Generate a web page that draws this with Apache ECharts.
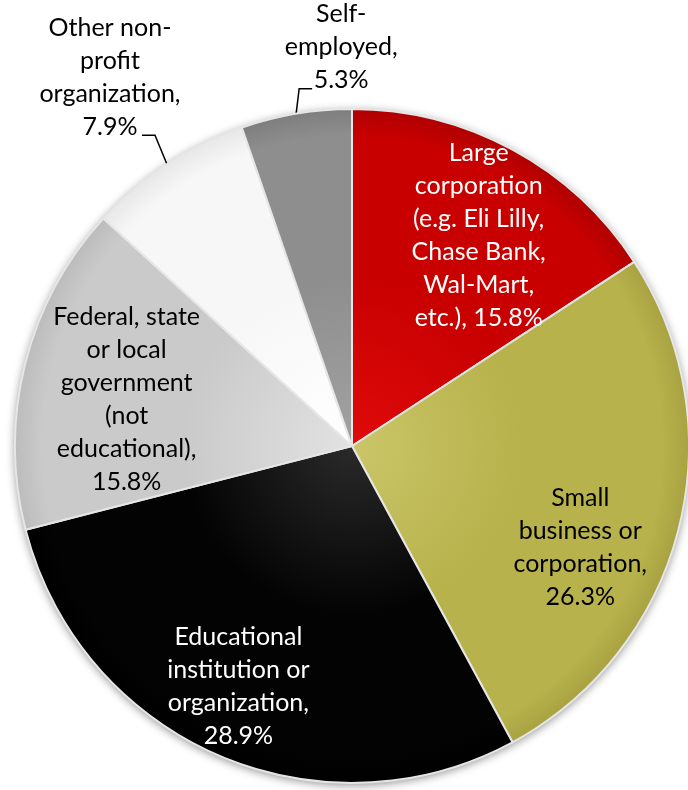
<!DOCTYPE html>
<html><head><meta charset="utf-8">
<script src="https://cdn.jsdelivr.net/npm/echarts@6/dist/echarts.min.js"></script>
<style>html,body{margin:0;padding:0;background:#fff}#c{width:688px;height:790px}</style>
</head><body><div id="c"></div>
<script>
// ---- data ----
const categories = [
  'Large corporation (e.g. Eli Lilly, Chase Bank, Wal-Mart, etc.)',
  'Small business or corporation',
  'Educational institution or organization',
  'Federal, state or local government (not educational)',
  'Other non-profit organization',
  'Self-employed'
];
const percentages = [15.8, 26.3, 28.9, 15.8, 7.9, 5.3];
const labelTexts = [
  'Large\ncorporation\n(e.g. Eli Lilly,\nChase Bank,\nWal-Mart,\netc.), 15.8%',
  'Small\nbusiness or\ncorporation,\n26.3%',
  'Educational\ninstitution or\norganization,\n28.9%',
  'Federal, state\nor local\ngovernment\n(not\neducational),\n15.8%',
  'Other non-\nprofit\norganization,\n7.9%',
  'Self-\nemployed,\n5.3%'
];

// ---- styles ----
const CX = 352, CY = 446, R = 337;
const sliceStops = [
  ['#e00a0a', '#c80000', '#b00000'],
  ['#cac668', '#b8b24c', '#a8a242'],
  ['#2a2a2a', '#030303', '#000000'],
  ['#e2e2e2', '#cacaca', '#bcbcbc'],
  ['#ffffff', '#f7f7f7', '#e8e8e8'],
  ['#a2a2a2', '#8e8e8e', '#7e7e7e']
];
const textColors = ['#ffffff', '#000000', '#ffffff', '#000000', '#000000', '#000000'];
const labelPlace = [
  { dx: 45, dy: -60 },
  { dx: 62, dy: 59 },
  { dx: -45, dy: 83 },
  { dx: -59, dy: -5 },
  { outside: true, tx: -57, ty: -153, elbow: [-12, -29], end: [-25, -29] },
  { outside: true, tx: 45, ty: -116, elbow: [3, -25], end: [16, -25] }
];

function grad(stops) {
  return {
    type: 'radial', x: CX, y: CY, r: R, global: true,
    colorStops: [
      { offset: 0, color: stops[0] },
      { offset: 0.5, color: stops[1] },
      { offset: 0.92, color: stops[1] },
      { offset: 1, color: stops[2] }
    ]
  };
}

const total = percentages.reduce((a, b) => a + b, 0);
function edgePoint(i) {
  let before = 0;
  for (let k = 0; k < i; k++) before += percentages[k];
  const a = (before + percentages[i] / 2) / total * 2 * Math.PI;
  return [CX + R * Math.sin(a), CY - R * Math.cos(a)];
}

const data = categories.map((name, i) => ({
  name: name,
  value: percentages[i],
  itemStyle: { color: grad(sliceStops[i]) },
  label: {
    position: labelPlace[i].outside ? 'outside' : 'inside',
    color: textColors[i]
  },
  labelLine: { show: !!labelPlace[i].outside }
}));

const chart = echarts.init(document.getElementById('c'), null, { renderer: 'canvas' });
chart.setOption({
  animation: false,
  backgroundColor: '#ffffff',
  series: [
    {
      type: 'pie', silent: true, z: 1,
      center: [CX, CY], radius: R,
      label: { show: false }, labelLine: { show: false },
      itemStyle: { color: '#ffffff', shadowBlur: 10, shadowColor: 'rgba(0,0,0,0.45)', shadowOffsetY: 2 },
      data: [{ value: 1 }]
    },
    {
      type: 'pie', z: 2,
      center: [CX, CY], radius: R,
      startAngle: 90, clockwise: true,
      avoidLabelOverlap: false,
      itemStyle: { borderColor: '#e6e6e6', borderWidth: 2 },
      label: {
        show: true,
        formatter: p => labelTexts[p.dataIndex],
        fontFamily: 'Lato', fontSize: 25, lineHeight: 33, align: 'center'
      },
      labelLine: { show: true, lineStyle: { color: '#000', width: 1.5 } },
      labelLayout: function (p) {
        const o = labelPlace[p.dataIndex];
        if (!o.outside) return { dx: o.dx, dy: o.dy };
        const E = (p.labelLinePoints && p.labelLinePoints[0]) || edgePoint(p.dataIndex);
        return {
          x: E[0] + o.tx, y: E[1] + o.ty,
          align: 'center', verticalAlign: 'top',
          labelLinePoints: [
            [E[0], E[1]],
            [E[0] + o.elbow[0], E[1] + o.elbow[1]],
            [E[0] + o.end[0], E[1] + o.end[1]]
          ]
        };
      },
      data: data
    }
  ]
});
</script></body></html>
